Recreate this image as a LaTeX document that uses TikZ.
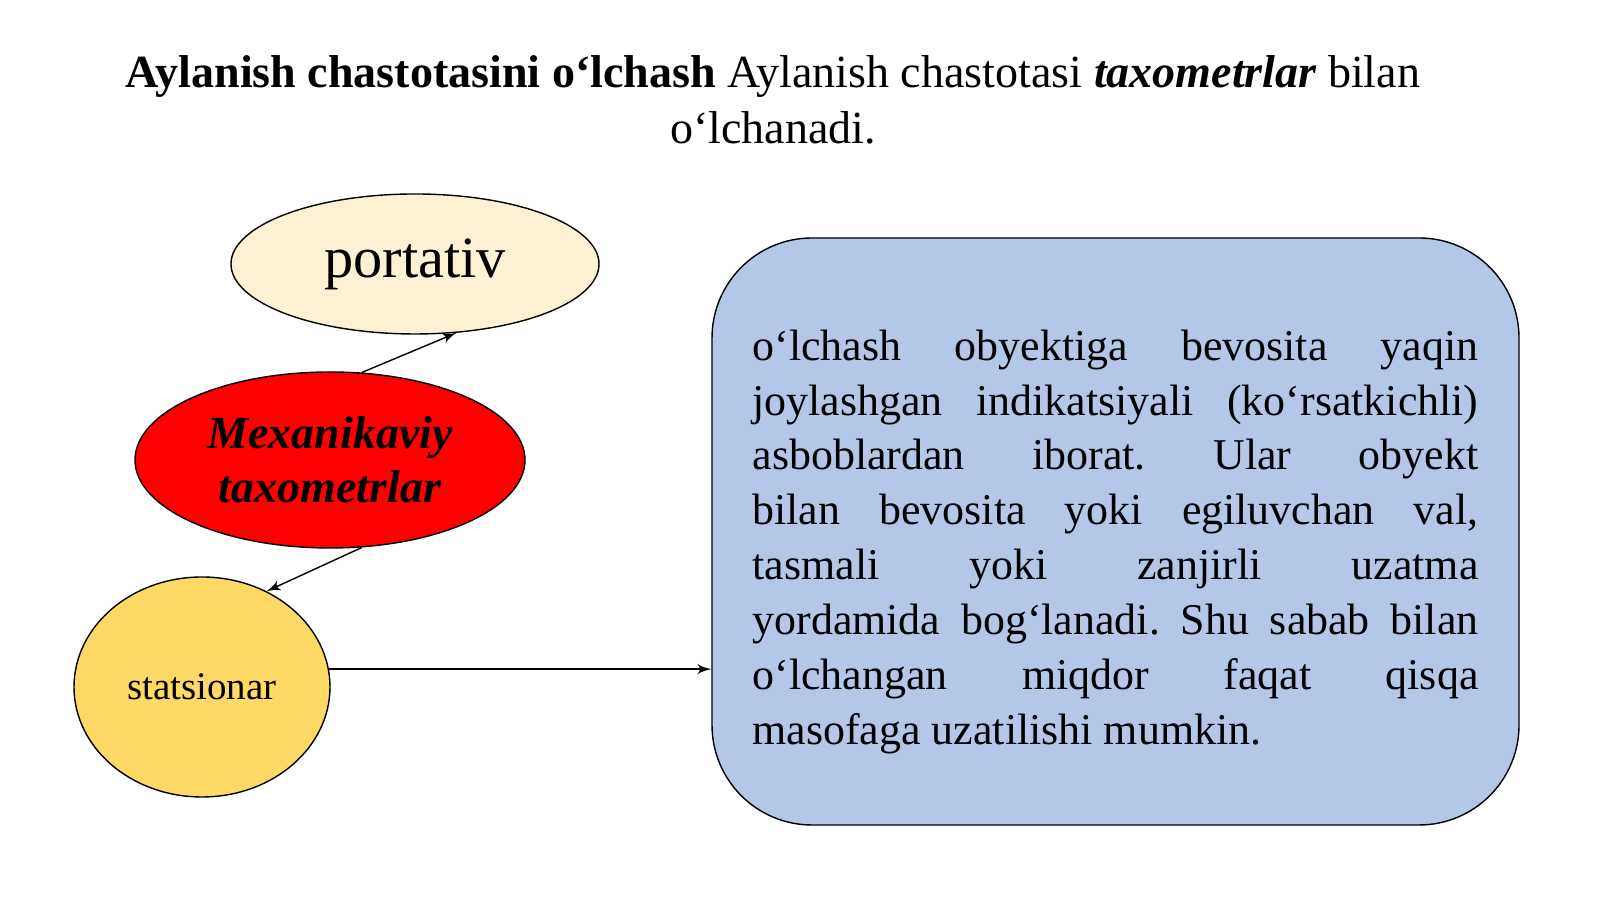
\documentclass[tikz,border=0pt]{standalone}
\usepackage{fontspec}
\setmainfont{Liberation Serif}
\usetikzlibrary{shapes,arrows}

\definecolor{creamfill}{HTML}{FCF1D3}
\definecolor{mechred}{HTML}{FF0000}
\definecolor{goldfill}{HTML}{FFD966}
\definecolor{boxblue}{HTML}{B4C7E7}

\begin{document}
\begin{tikzpicture}[
    % Define styles for the ovals and the text box
    oval/.style={
        ellipse,
        draw,
        thin,
        text centered,
        inner sep=0pt
    },
    infobox/.style={
        rectangle,
        rounded corners=1cm,
        draw,
        thin,
        fill=boxblue,
        text width=7.26cm,
        align=justify,
        inner sep=0pt,
        minimum width=8.07cm,
        minimum height=5.87cm,
        font=\fontsize{12.5pt}{15.6pt}\selectfont
    },
    line/.style={
        draw,
        -latex',
        thin
    }
]
\useasboundingbox (0,0) rectangle (16,8.99);

% Title
\node[align=center, font=\fontsize{13.1pt}{15.9pt}\selectfont] (title) at (7.73,7.99)
    {{\bfseries Aylanish chastotasini o‘lchash} Aylanish chastotasi
     {\bfseries\itshape taxometrlar} bilan\\ o‘lchanadi.};

% Place the ovals
\node[oval, fill=creamfill, minimum width=3.68cm, minimum height=1.40cm,
      font=\fontsize{16.6pt}{19pt}\selectfont] (port) at (4.15,6.35) {portativ};
\node[oval, fill=mechred, minimum width=3.90cm, minimum height=1.76cm, align=center,
      font=\fontsize{13.1pt}{15.4pt}\selectfont\bfseries\itshape] (mech) at (3.30,4.39)
      {Mexanikaviy\\taxometrlar};
\node[oval, fill=goldfill, minimum width=2.56cm, minimum height=2.20cm,
      font=\fontsize{11.1pt}{13pt}\selectfont] (stat) at (2.02,2.12) {statsionar};

% Text box
\node[infobox] (box) at (11.155,3.675)
    {\frenchspacing\hyphenpenalty=10000 \tolerance=10000
     \rule{0pt}{0.51cm}o‘lchash obyektiga bevosita yaqin\linebreak
     joylashgan indikatsiyali (ko‘rsatkichli)\linebreak
     asboblardan iborat. Ular obyekt\linebreak
     bilan bevosita yoki egiluvchan val,\linebreak
     tasmali yoki zanjirli uzatma\linebreak
     yordamida bog‘lanadi. Shu sabab bilan\linebreak
     o‘lchangan miqdor faqat qisqa\linebreak
     masofaga uzatilishi mumkin.};

% Draw the connections
\draw[line] (mech.70) -- (port.-59);
\draw[line] (mech.-70) -- (stat.56);
\draw[line] (stat.8) -- (stat.8 -| box.west);

\end{tikzpicture}
\end{document}
